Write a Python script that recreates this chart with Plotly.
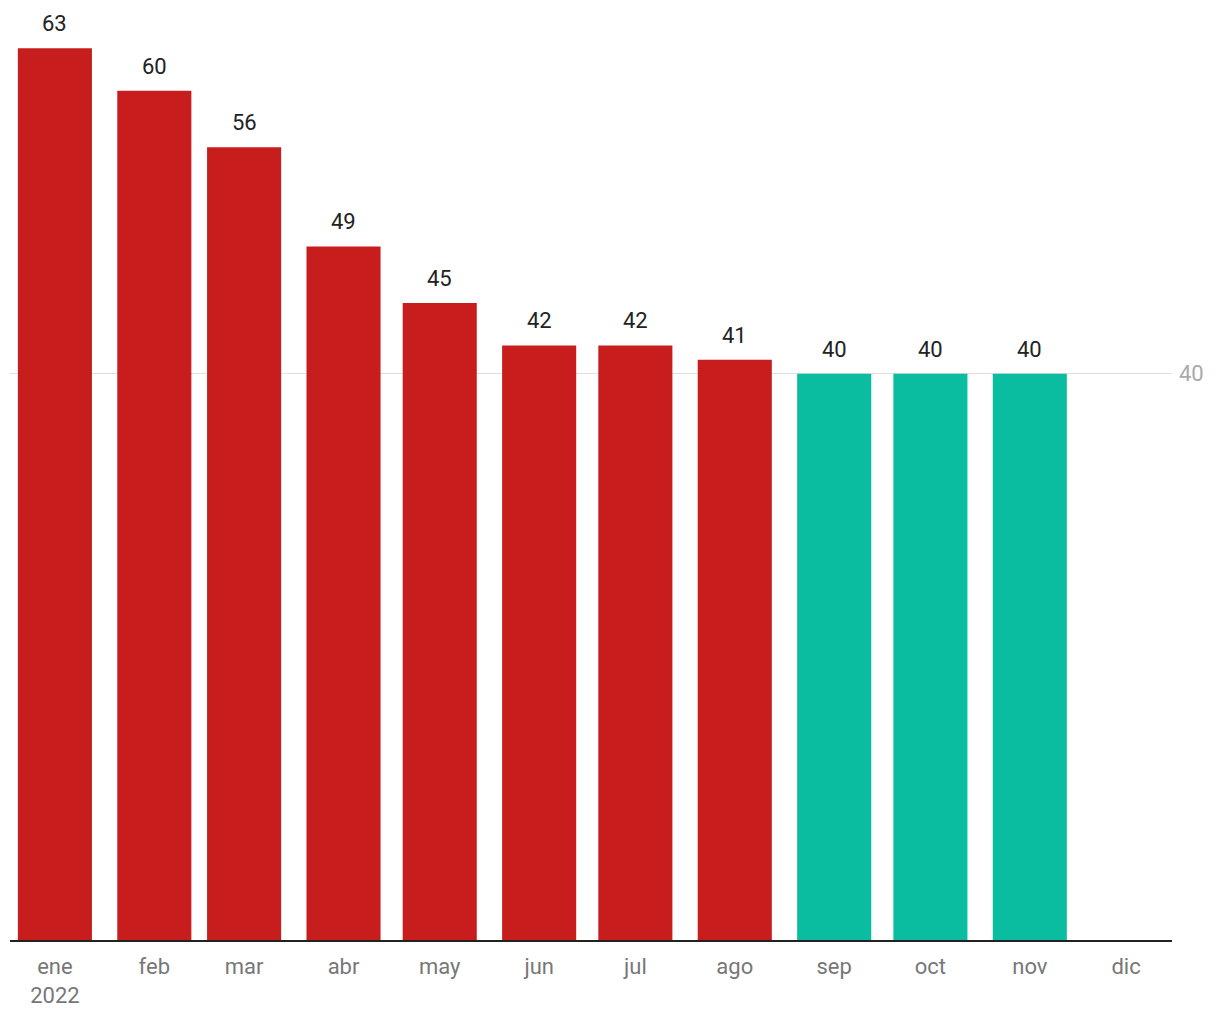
import plotly.graph_objects as go

months = ["2022-01-01", "2022-02-01", "2022-03-01", "2022-04-01", "2022-05-01",
          "2022-06-01", "2022-07-01", "2022-08-01", "2022-09-01", "2022-10-01",
          "2022-11-01", "2022-12-01"]
tick_labels = ["ene<br>2022", "feb", "mar", "abr", "may", "jun", "jul", "ago",
               "sep", "oct", "nov", "dic"]
values = [63, 60, 56, 49, 45, 42, 42, 41, 40, 40, 40]
bar_colors = ["#C71E1D"] * 8 + ["#0ABDA0"] * 3

fig = go.Figure()
fig.add_trace(go.Bar(
    x=months[:len(values)],
    y=values,
    marker=dict(color=bar_colors, line=dict(width=0)),
    width=23.1 * 86400000,
    hoverinfo="x+y",
))

# value labels above each bar
for m, v in zip(months, values):
    fig.add_annotation(x=m, y=v, text=str(v), showarrow=False,
                       yanchor="bottom", yshift=10,
                       font=dict(size=22, color="#222222", family="Roboto"))

fig.update_layout(
    width=1212, height=1012,
    margin=dict(l=2, r=48, t=2, b=80),
    paper_bgcolor="white", plot_bgcolor="white",
    showlegend=False,
    font=dict(family="Roboto", size=22),
    xaxis=dict(
        type="date",
        range=["2021-12-18", "2022-12-15 08:00"],
        tickvals=months,
        ticktext=tick_labels,
        tickfont=dict(size=22, color="#777777"),
        ticklabelstandoff=6,
        showgrid=False,
        showline=True, linecolor="#222222", linewidth=2,
        ticks="",
    ),
    yaxis=dict(
        side="right",
        range=[0, 65.7],
        tickvals=[40],
        tickfont=dict(size=22, color="#aaaaaa"),
        ticklabelstandoff=6,
        showgrid=True, gridcolor="#e0e0e0", gridwidth=1,
        zeroline=False,
        ticks="",
    ),
)

fig.write_html("out.html")
